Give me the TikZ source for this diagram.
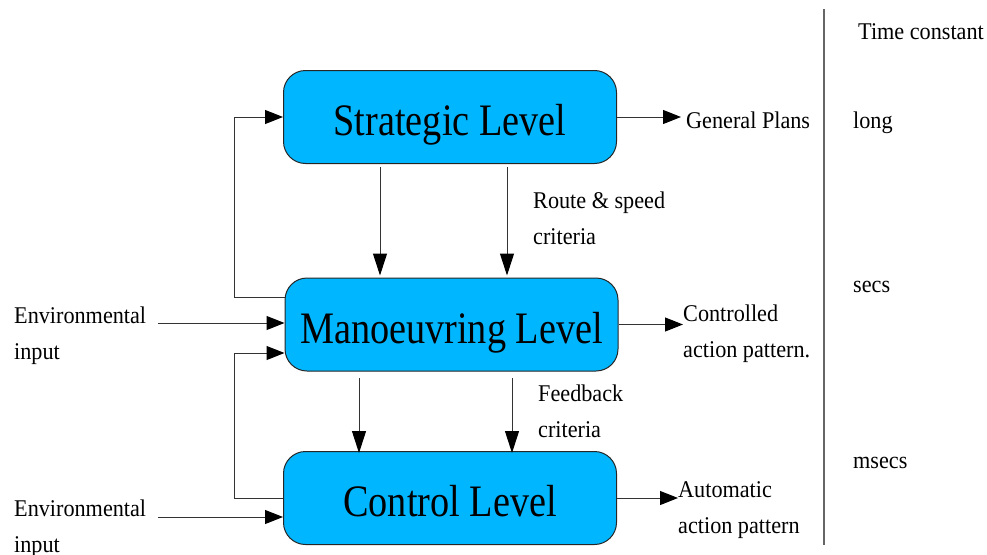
\documentclass[tikz,border=0pt]{standalone}
\usepackage{fontspec}
\setmainfont[FakeStretch=0.925]{Liberation Serif}
\newfontfamily\bigfont[FakeStretch=0.85]{Liberation Serif}
\usetikzlibrary{arrows.meta,calc}
\definecolor{boxblue}{RGB}{0,182,255}
\begin{document}
\begin{tikzpicture}[x=1pt,y=-1pt,
  level/.style={draw=black!85, line width=1pt, fill=boxblue, rounded corners=22pt,
    minimum width=333pt, minimum height=93pt, inner sep=0pt,
    font=\bigfont\fontsize{45}{50}\selectfont, text height=37pt, text depth=0pt},
  lbl/.style={font=\fontsize{24}{36}\selectfont, inner sep=0pt, align=left},
  arr/.style={draw=black!80, line width=1pt, -{Triangle[length=18pt,width=14pt,black]}},
  darr/.style={draw=black!80, line width=1pt, -{Triangle[length=22pt,width=14pt,black]}},
  sep/.style={draw=black!60, line width=1.5pt}]
\useasboundingbox (0,0) rectangle (987,554);

% level boxes
\node[level] (S) at (450,117) {Strategic Level};
\node[level] (M) at (451.5,324.5) {Manoeuvring Level};
\node[level] (C) at (450,498) {Control Level};

% feedback loops on the left
\coordinate (l1) at (234,117);
\coordinate (m1) at (285,297);
\draw[arr] (m1) -| (l1) -- (S.west);
\coordinate (l2) at (234,353);
\draw[arr] (C.west) -| (l2) -- (l2 -| M.west);

% environmental inputs
\node[lbl, anchor=north west] (E1) at (14,307) {Environmental\\input};
\node[lbl, anchor=north west] (E2) at (14,500) {Environmental\\input};
\coordinate (e1) at (158,323);
\coordinate (e2) at (158,517);
\draw[arr] (e1) -- (e1 -| M.west);
\draw[arr] (e2) -- (e2 -| C.west);

% downward arrows
\coordinate (d1) at (380,167);
\coordinate (d2) at (507,167);
\coordinate (d3) at (359,378);
\coordinate (d4) at (512,378);
\draw[darr, shorten >=2pt] (d1) -- (d1 |- M.north);
\draw[darr, shorten >=2pt] (d2) -- (d2 |- M.north);
\draw[darr, shorten >=-2pt] (d3) -- (d3 |- C.north);
\draw[darr, shorten >=-2pt] (d4) -- (d4 |- C.north);

\node[lbl, anchor=north west] (RS) at (533,192) {Route \& speed\\criteria};
\node[lbl, anchor=north west] (FB) at (538,385) {Feedback\\criteria};

% outputs
\node[lbl, anchor=base west] (GP) at (686,128) {General Plans};
\node[lbl, anchor=north west] (CA) at (683,305) {Controlled\\action pattern.};
\node[lbl, anchor=north west] (AA) at (678,481) {Automatic\\action pattern};
\draw[arr, shorten >=5pt] (S.east) -- (S.east -| GP.west);
\draw[arr] (M.east) -- (M.east -| CA.west);
\draw[arr] (C.east) -- (C.east -| AA.west);

% time constant column
\coordinate (vt) at (824,9);
\coordinate (vb) at (824,545);
\draw[sep] (vt) -- (vb);
\node[lbl, anchor=base west] (TC) at (858,39) {Time constant};
\node[lbl, anchor=base west] (TL) at (853,128) {long};
\node[lbl, anchor=base west] (TS) at (853,292) {secs};
\node[lbl, anchor=base west] (TM) at (853,468) {msecs};
\end{tikzpicture}
\end{document}
